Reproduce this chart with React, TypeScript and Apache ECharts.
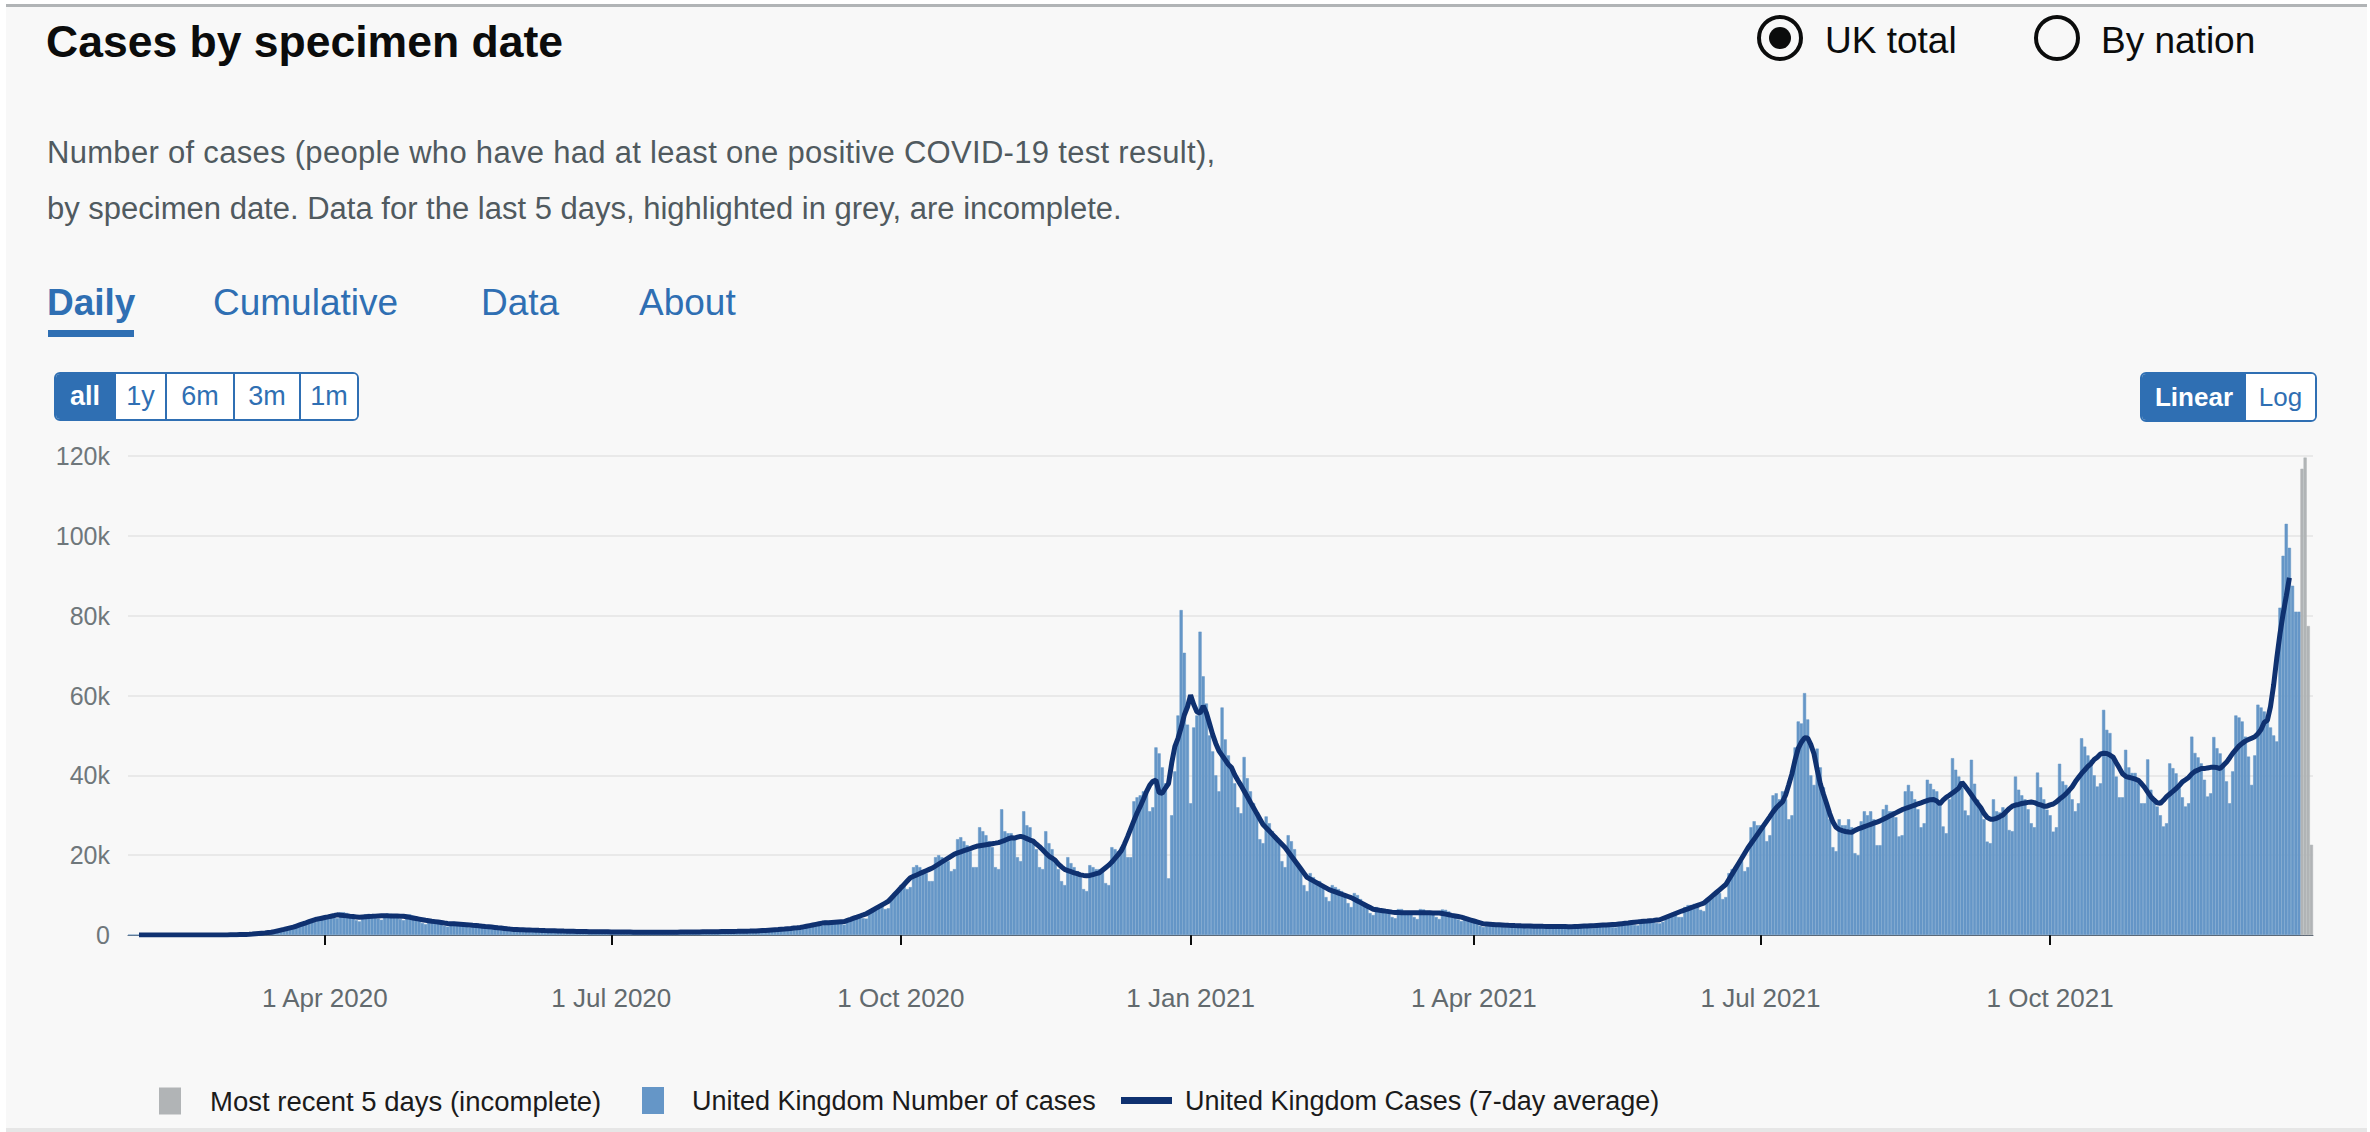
import React, { useEffect, useRef } from "react";
import * as echarts from "echarts";

const START_DATE = "2020-01-30";
const TICK_DATES = ["2020-04-01", "2020-07-01", "2020-10-01", "2021-01-01", "2021-04-01", "2021-07-01", "2021-10-01"];
const TICK_LABELS = ["1 Apr 2020", "1 Jul 2020", "1 Oct 2020", "1 Jan 2021", "1 Apr 2021", "1 Jul 2021", "1 Oct 2021"];
const Y_MAX = 120000;
const Y_STEP = 20000;

// Daily cases by specimen date (rows are weeks, Thu..Wed), 30 Jan 2020 - 19 Dec 2021
const casesWave1 = [
  2, 0, 0, 0, 0, 0, 0,
  0, 1, 0, 0, 1, 2, 1,
  1, 0, 0, 1, 0, 1, 0,
  0, 1, 1, 2, 3, 4, 6,
  8, 12, 10, 14, 25, 35, 48,
  70, 95, 90, 110, 200, 260, 320,
  420, 480, 430, 480, 850, 980, 1100,
  1400, 1550, 1450, 1550, 2350, 2650, 2850,
  3300, 3450, 3150, 3250, 4550, 4650, 4750,
  5000, 4950, 4300, 4200, 5700, 5700, 5500,
  5000, 4300, 3700, 3400, 4200, 5200, 5300,
  5200, 4900, 4100, 3800, 5200, 5400, 5300,
  5200, 4800, 4000, 3700, 5100, 5200, 4900,
  4600, 4200, 3000, 2700, 3700, 3900, 3700,
  3400, 2800, 2300, 2100, 3200, 3300, 3200,
  3000, 2700, 2100, 1900, 2700, 2700, 2600,
  2400, 2200, 1700, 1500, 1900, 2100, 2100,
  1700, 1500, 1100, 1000, 1500, 1500, 1400,
  1400, 1300, 1000, 850, 1300, 1300, 1200,
  1200, 1100, 850, 750, 1100, 1100, 1050,
  1000, 950, 700, 650, 950, 950, 900,
  900, 850, 650, 600, 900, 900, 850,
  800, 800, 600, 550, 850, 800, 750,
  750, 700, 550, 500, 800, 800, 750,
  750, 700, 550, 500, 800, 800, 750,
  800, 750, 600, 550, 850, 850, 800,
];
const casesSecondWave = [
  850, 800, 650, 600, 950, 950, 900,
  950, 900, 700, 650, 1050, 1050, 1000,
  1050, 1000, 800, 750, 1150, 1150, 1100,
  1300, 1250, 1050, 1000, 1550, 1600, 1700,
  1600, 1600, 1400, 1300, 2100, 2500, 2700,
  2800, 2900, 2400, 2400, 3600, 3500, 3300,
  3300, 3300, 2800, 2600, 3800, 3900, 3900,
  4600, 4800, 4200, 4100, 6000, 6500, 7000,
  7200, 7400, 6500, 6700, 9800, 10500, 11000,
  12500, 13000, 11500, 12000, 17000, 17500, 17000,
  16000, 15500, 13500, 13500, 19500, 20000, 19500,
  19000, 18500, 16000, 16500, 24000, 24500, 23500,
  22500, 21000, 17000, 17000, 27000, 26000, 25000,
  23500, 22000, 17000, 16500, 31500, 26000, 25500,
  25500, 24000, 19500, 18500, 31000, 27500, 27000,
  24000, 21500, 17000, 16500, 26000, 23000, 21500,
  18000, 16500, 13500, 12500, 19500, 18000, 17000,
  16000, 14500, 11500, 11000, 17500, 17000, 16500,
  16500, 16000, 13000, 12500, 22000, 21500, 21000,
  22000, 22500, 19500, 19500, 33500, 34500, 35000,
  36000, 36000, 31000, 32000, 47000, 45500, 42000,
  38000, 14200, 30000, 41000, 55000, 81400, 70700,
  52700, 33000, 52000, 55000, 76000, 64800, 58000,
  50000, 46000, 40000, 36000, 57000, 49000, 45000,
  42000, 38000, 32000, 30500, 44600, 39300, 36000,
  33000, 30000, 24000, 23000, 29700, 28000, 26000,
];
const casesThirdWave = [
  25000, 23000, 18500, 17000, 25000, 23500, 21500,
  17500, 16500, 12500, 11000, 15500, 14500, 13500,
  13500, 12000, 9500, 8500, 12500, 12000, 11500,
  11000, 10000, 8000, 7000, 10500, 10000, 9000,
  8000, 7000, 5500, 5000, 7000, 6500, 6200,
  6000, 5600, 4500, 4200, 6500, 6500, 6000,
  6000, 5600, 4500, 4000, 6500, 6400, 6000,
  6000, 5600, 4500, 4000, 6400, 6300, 5900,
  5400, 5000, 3900, 3500, 4800, 4500, 4200,
  3900, 2800, 2300, 2000, 2200, 3200, 3100,
  2900, 2600, 2100, 1900, 2600, 2600, 2500,
  2600, 2400, 1900, 1700, 2400, 2400, 2300,
  2500, 2300, 1800, 1600, 2300, 2300, 2200,
  2400, 2200, 1700, 1500, 1800, 2500, 2500,
  2600, 2400, 1800, 1700, 2600, 2700, 2600,
  2800, 2600, 2000, 1900, 3000, 3200, 3100,
  3300, 3200, 2500, 2400, 3800, 3900, 3900,
  4000, 3800, 3000, 2900, 3300, 4700, 5000,
  5500, 5500, 4500, 4500, 7000, 7500, 7500,
  7800, 7800, 6300, 6000, 9000, 9500, 9500,
  10500, 10500, 9000, 9500, 15500, 16500, 17000,
  18000, 18500, 16000, 17000, 27000, 28500, 27500,
  27500, 27000, 23500, 25000, 35000, 35500, 34000,
  36000, 34000, 29000, 30000, 47000, 53500, 53000,
  60600, 54000, 40000, 37600, 46700, 42000, 37000,
  33000, 29000, 22000, 21000, 29000, 27500, 27500,
];
const casesAutumn2021 = [
  29000, 27000, 20500, 20000, 28500, 31000, 30000,
  31000, 29000, 22500, 22500, 31500, 32600, 31000,
  31000, 29500, 24700, 25000, 36000, 37600, 36000,
  34000, 31500, 27000, 28000, 38900, 37900, 36500,
  36000, 33000, 27200, 25500, 34000, 44300, 41400,
  39700, 37000, 31200, 30000, 43900, 37900, 33900,
  32000, 29000, 23400, 23000, 34000, 31000, 30700,
  32000, 30500, 26300, 26000, 39700, 36400, 35000,
  34000, 31500, 28000, 27000, 40700, 37000, 34000,
  31400, 30000, 25900, 27000, 42900, 38500, 37600,
  36500, 34000, 31000, 33000, 49300, 47200, 45000,
  43900, 40000, 37200, 38000, 56400, 51400, 50600,
  45000, 39700, 34500, 34500, 46400, 42000, 40600,
  40600, 38000, 33000, 33000, 44000, 36400, 34000,
  32200, 30000, 27200, 28000, 43000, 41800, 40500,
  36800, 34500, 32200, 33000, 49700, 45600, 44500,
  43000, 38900, 34700, 35500, 49600, 46800, 45500,
  43000, 38500, 33000, 41000, 55000, 54500, 53500,
  49700, 44700, 37600, 45000, 57700, 57000, 56000,
  55000, 52000, 50000, 48500, 82000, 95000, 103000,
  97000, 87500, 81000, 81000,
];
// Last days, highlighted in grey (incomplete)
const casesIncomplete = [116800, 119600, 77400, 22600];

// 7-day average line, same day grid (null where not shown)
const avgWave1 = [
  null, null, null, 0, 0, 0, 1,
  1, 1, 1, 1, 1, 1, 0,
  0, 0, 0, 0, 1, 1, 1,
  1, 2, 2, 2, 5, 8, 11,
  13, 16, 19, 22, 42, 62, 83,
  103, 123, 144, 164, 237, 311, 384,
  457, 530, 604, 677, 862, 1047, 1232,
  1416, 1601, 1786, 1971, 2243, 2514, 2786,
  3056, 3328, 3600, 3871, 4040, 4208, 4376,
  4544, 4713, 4881, 5050, 4963, 4876, 4790,
  4703, 4617, 4530, 4443, 4500, 4557, 4614,
  4671, 4729, 4786, 4843, 4823, 4802, 4782,
  4761, 4741, 4720, 4700, 4555, 4410, 4265,
  4121, 3976, 3831, 3686, 3574, 3461, 3349,
  3237, 3125, 3012, 2900, 2847, 2794, 2741,
  2688, 2635, 2582, 2529, 2451, 2374, 2296,
  2219, 2141, 2064, 1986, 1900, 1814, 1729,
  1643, 1557, 1472, 1386, 1358, 1331, 1303,
  1276, 1248, 1221, 1193, 1168, 1144, 1119,
  1095, 1070, 1046, 1021, 1000, 978, 957,
  935, 914, 893, 871, 862, 853, 844,
  834, 825, 816, 807, 797, 787, 777,
  766, 756, 746, 736, 730, 724, 718,
  711, 705, 699, 693, 693, 693, 693,
  693, 693, 693, 693, 700, 707, 714,
  722, 729, 736, 743, 753, 763, 773,
];
const avgSecondWave = [
  784, 794, 804, 814, 826, 839, 851,
  863, 875, 888, 900, 914, 929, 943,
  957, 971, 986, 1000, 1050, 1100, 1150,
  1200, 1250, 1300, 1350, 1427, 1503, 1580,
  1656, 1733, 1809, 1886, 2043, 2200, 2357,
  2514, 2671, 2829, 2986, 3041, 3096, 3151,
  3206, 3261, 3316, 3371, 3649, 3926, 4204,
  4481, 4759, 5036, 5314, 5761, 6208, 6655,
  7102, 7549, 7996, 8443, 9288, 10133, 10978,
  11822, 12667, 13512, 14357, 14704, 15051, 15398,
  15745, 16092, 16439, 16786, 17286, 17786, 18286,
  18786, 19286, 19786, 20286, 20561, 20837, 21112,
  21388, 21663, 21939, 22214, 22347, 22480, 22612,
  22745, 22878, 23010, 23143, 23429, 23714, 24071,
  24357, 24286, 24500, 24714, 24500, 24143, 23786,
  23500, 22786, 22143, 21357, 20500, 19786, 19286,
  18714, 17786, 17071, 16429, 16143, 15857, 15571,
  15357, 15071, 14929, 14857, 14929, 15143, 15357,
  15571, 16214, 16857, 17500, 18286, 19214, 20143,
  21143, 22786, 24643, 26643, 28643, 30571, 32214,
  34000, 35929, 37500, 38500, 38786, 35671, 35529,
  36814, 37957, 43086, 47186, 49286, 51971, 55114,
  57114, 60114, 57743, 55929, 55543, 57400, 55686,
  52971, 50257, 48000, 46143, 45000, 43857, 42714,
  41929, 40157, 38771, 37486, 36084, 34679, 33275,
  31881, 30476, 29073, 27671, 26850, 26029, 25208,
];
const avgThirdWave = [
  24390, 23570, 22749, 21929, 20857, 19786, 18714,
  17643, 16571, 15500, 14429, 13990, 13551, 13112,
  12673, 12235, 11796, 11357, 11071, 10786, 10500,
  10214, 9929, 9643, 9357, 8943, 8528, 8114,
  7700, 7286, 6871, 6457, 6337, 6216, 6096,
  5975, 5855, 5734, 5614, 5608, 5602, 5596,
  5590, 5584, 5577, 5571, 5565, 5559, 5553,
  5547, 5541, 5535, 5529, 5378, 5227, 5076,
  4924, 4773, 4622, 4471, 4230, 3990, 3749,
  3508, 3267, 3027, 2786, 2739, 2692, 2645,
  2598, 2551, 2504, 2457, 2426, 2396, 2365,
  2335, 2304, 2274, 2243, 2229, 2214, 2200,
  2186, 2171, 2157, 2143, 2135, 2127, 2119,
  2110, 2102, 2094, 2086, 2123, 2159, 2196,
  2233, 2269, 2306, 2343, 2388, 2433, 2478,
  2522, 2567, 2612, 2657, 2747, 2837, 2927,
  3016, 3106, 3196, 3286, 3361, 3437, 3512,
  3588, 3663, 3739, 3814, 4127, 4439, 4751,
  5063, 5376, 5688, 6000, 6284, 6567, 6851,
  7135, 7418, 7702, 7986, 8651, 9316, 9982,
  10647, 11312, 11977, 12643, 13949, 15255, 16561,
  17867, 19173, 20480, 21786, 22908, 24031, 25153,
  26276, 27398, 28521, 29643, 30857, 31857, 32643,
  33357, 35071, 37643, 40357, 43871, 46729, 48300,
  49386, 49343, 47700, 45414, 41471, 37900, 35329,
  32957, 30429, 28357, 27000, 26429, 26143, 25929,
];
const avgAutumn2021 = [
  25786, 25714, 26214, 26571, 26859, 27147, 27435,
  27722, 28010, 28298, 28586, 28988, 29391, 29793,
  30194, 30596, 30998, 31400, 31686, 31971, 32257,
  32543, 32829, 33114, 33400, 33686, 33900, 33929,
  33571, 32871, 33786, 34486, 35014, 35586, 36157,
  36800, 38214, 37300, 36229, 35129, 33986, 32871,
  31871, 30457, 29471, 29014, 29014, 29229, 29643,
  30071, 30886, 31657, 32271, 32557, 32700, 32943,
  33086, 33229, 33314, 33171, 32800, 32586, 32286,
  32286, 32600, 32814, 33329, 34057, 34629, 35357,
  36214, 37129, 38371, 39429, 40486, 41343, 42229,
  42943, 43957, 44557, 45357, 45514, 45471, 45086,
  44586, 43157, 41814, 40386, 39757, 39514, 39300,
  39086, 38743, 37943, 37000, 35800, 34657, 33829,
  33114, 32971, 33743, 34671, 35329, 35971, 36686,
  37400, 38357, 38900, 39471, 40357, 40986, 41343,
  41700, 41686, 41857, 42000, 42000, 41943, 41700,
  42486, 43257, 44357, 45500, 46457, 47343, 48000,
  48571, 48957, 49314, 49671, 50429, 51471, 53243,
  53743, 57214, 62643, 69357, 75357, 80429, 84857,
  89500,
];

const SERIES_GREY = "Most recent 5 days (incomplete)";
const SERIES_BARS = "United Kingdom Number of cases";
const SERIES_LINE = "United Kingdom Cases (7-day average)";

const FONT = "'Liberation Sans', Arial, sans-serif";
const BLUE = "#2f6fb3";
const BAR_BLUE = "#6596c7";
const BAR_GREY = "#b1b4b6";
const LINE_NAVY = "#0f3170";

function buildDates(start: string, n: number): string[] {
  const out: string[] = [];
  const d = new Date(start + "T00:00:00Z");
  for (let i = 0; i < n; i++) {
    out.push(d.toISOString().slice(0, 10));
    d.setUTCDate(d.getUTCDate() + 1);
  }
  return out;
}

function Seg({ w, active, bold, children, first }: any) {
  return (
    <div
      style={{
        width: w,
        height: "100%",
        boxSizing: "border-box",
        borderLeft: first ? "none" : `2px solid ${BLUE}`,
        background: active ? BLUE : "#ffffff",
        color: active ? "#ffffff" : BLUE,
        fontWeight: bold ? 700 : 400,
        display: "flex",
        alignItems: "center",
        justifyContent: "center",
      }}
    >
      {children}
    </div>
  );
}

export default function App() {
  const ref = useRef<HTMLDivElement>(null);

  useEffect(() => {
    const complete = [...casesWave1, ...casesSecondWave, ...casesThirdWave, ...casesAutumn2021];
    const avg = [...avgWave1, ...avgSecondWave, ...avgThirdWave, ...avgAutumn2021];
    const n = complete.length + casesIncomplete.length;
    const dates = buildDates(START_DATE, n);
    const blueData = [...complete, ...casesIncomplete.map(() => null)];
    const greyData = [...complete.map(() => null), ...casesIncomplete];

    const chart = echarts.init(ref.current!, null, { renderer: "svg" });
    const isTick = (_i: number, v: string) => TICK_DATES.indexOf(v) >= 0;
    const legendText = { fontFamily: FONT, fontSize: 27, color: "#1b1b1b" };
    chart.setOption({
      animation: false,
      grid: { left: 128, right: 57, top: 456, bottom: 197, containLabel: false },
      xAxis: [
        {
          type: "category",
          data: dates,
          position: "bottom",
          offset: 29,
          axisLine: { show: false },
          axisTick: {
            show: true,
            interval: isTick,
            alignWithLabel: true,
            length: 10,
            lineStyle: { color: "#0b0c0c", width: 2 },
          },
          axisLabel: {
            interval: isTick,
            formatter: (v: string) => {
              const k = TICK_DATES.indexOf(v);
              return k >= 0 ? TICK_LABELS[k] : "";
            },
            margin: 21,
            fontFamily: FONT,
            fontSize: 26,
            color: "#626a6e",
          },
          splitLine: { show: false },
        },
        {
          type: "category",
          data: dates,
          position: "bottom",
          offset: 0,
          axisLine: { show: true, lineStyle: { color: "#5a6470", width: 1 } },
          axisTick: { show: false },
          axisLabel: { show: false },
          splitLine: { show: false },
        },
      ],
      yAxis: {
        type: "value",
        min: 0,
        max: Y_MAX,
        interval: Y_STEP,
        axisLine: { show: false },
        axisTick: { show: false },
        axisLabel: {
          formatter: (v: number) => (v === 0 ? "0" : v / 1000 + "k"),
          margin: 18,
          fontFamily: FONT,
          fontSize: 25,
          color: "#6f777b",
        },
        splitLine: { lineStyle: { color: "#e9e9e9", width: 2 } },
      },
      legend: [
        { top: 1087, left: 159, padding: 0, selectedMode: false, itemWidth: 20, itemHeight: 25, data: [{ name: SERIES_GREY, icon: "rect" }], textStyle: { ...legendText, fontSize: 27.5, padding: [0, 0, 0, 25] } },
        { top: 1087, left: 642, padding: 0, selectedMode: false, itemWidth: 20, itemHeight: 25, data: [{ name: SERIES_BARS, icon: "rect" }], textStyle: { ...legendText, padding: [0, 0, 0, 24] } },
        { top: 1087, left: 1121, padding: 0, selectedMode: false, itemWidth: 51, itemHeight: 7, data: [{ name: SERIES_LINE, icon: "rect" }], textStyle: { ...legendText, padding: [0, 0, 0, 8] } },
      ],
      series: [
        {
          name: SERIES_GREY,
          type: "bar",
          data: greyData,
          barGap: "-100%",
          barCategoryGap: "0%",
          itemStyle: { color: BAR_GREY, borderColor: BAR_GREY, borderWidth: 0.5 },
          z: 2,
        },
        {
          name: SERIES_BARS,
          type: "bar",
          data: blueData,
          barGap: "-100%",
          barCategoryGap: "0%",
          itemStyle: { color: BAR_BLUE, borderColor: BAR_BLUE, borderWidth: 0.5 },
          z: 2,
        },
        {
          name: SERIES_LINE,
          type: "line",
          data: avg,
          showSymbol: false,
          symbol: "none",
          connectNulls: false,
          lineStyle: { color: LINE_NAVY, width: 5 },
          itemStyle: { color: LINE_NAVY },
          z: 4,
        },
      ],
    });
    return () => chart.dispose();
  }, []);

  const abs = (s: any) => ({ position: "absolute" as const, ...s });

  return (
    <div style={abs({ left: 0, top: 0, width: 2370, height: 1132, background: "#ffffff", overflow: "hidden", fontFamily: FONT })}>
      <div style={abs({ left: 6, top: 4, width: 2361, height: 1128, background: "#f8f8f8", borderTop: "3px solid #b1b4b6", borderBottom: "4px solid #e6e6e6", boxSizing: "border-box" })} />
      <div ref={ref} style={abs({ left: 0, top: 0, width: 2370, height: 1132 })} />

      <div style={abs({ left: 46, top: 20, fontSize: 44.5, lineHeight: "44px", fontWeight: 700, color: "#0b0c0c", whiteSpace: "nowrap" })}>
        Cases by specimen date
      </div>

      <div style={abs({ left: 1757, top: 15, width: 46, height: 46, borderRadius: "50%", border: "4px solid #0b0c0c", boxSizing: "border-box" })} />
      <div style={abs({ left: 1769, top: 27, width: 22, height: 22, borderRadius: "50%", background: "#0b0c0c" })} />
      <div style={abs({ left: 1825, top: 22, fontSize: 37, lineHeight: "37px", color: "#0b0c0c", whiteSpace: "nowrap" })}>UK total</div>
      <div style={abs({ left: 2034, top: 15, width: 46, height: 46, borderRadius: "50%", border: "4px solid #0b0c0c", boxSizing: "border-box" })} />
      <div style={abs({ left: 2101, top: 22, fontSize: 37, lineHeight: "37px", color: "#0b0c0c", whiteSpace: "nowrap" })}>By nation</div>

      <div style={abs({ left: 47, top: 125, fontSize: 31, letterSpacing: "0.3px", lineHeight: "56px", color: "#505a5f", whiteSpace: "nowrap" })}>
        Number of cases (people who have had at least one positive COVID-19 test result),
      </div>
      <div style={abs({ left: 47, top: 181, fontSize: 31, lineHeight: "56px", color: "#505a5f", whiteSpace: "nowrap" })}>
        by specimen date. Data for the last 5 days, highlighted in grey, are incomplete.
      </div>

      <div style={abs({ left: 47, top: 284, fontSize: 37, lineHeight: "37px", fontWeight: 700, color: BLUE, whiteSpace: "nowrap" })}>Daily</div>
      <div style={abs({ left: 48, top: 330, width: 86, height: 7, background: BLUE })} />
      <div style={abs({ left: 213, top: 284, fontSize: 37, lineHeight: "37px", color: BLUE, whiteSpace: "nowrap" })}>Cumulative</div>
      <div style={abs({ left: 481, top: 284, fontSize: 37, lineHeight: "37px", color: BLUE, whiteSpace: "nowrap" })}>Data</div>
      <div style={abs({ left: 639, top: 284, fontSize: 37, lineHeight: "37px", color: BLUE, whiteSpace: "nowrap" })}>About</div>

      <div style={abs({ left: 54, top: 372, width: 305, height: 49, border: `2px solid ${BLUE}`, borderRadius: 6, overflow: "hidden", display: "flex", boxSizing: "border-box", fontSize: 27 })}>
        <Seg w={58} active bold first>all</Seg>
        <Seg w={51}>1y</Seg>
        <Seg w={68}>6m</Seg>
        <Seg w={66}>3m</Seg>
        <Seg w={58}>1m</Seg>
      </div>

      <div style={abs({ left: 2140, top: 372, width: 177, height: 50, border: `2px solid ${BLUE}`, borderRadius: 6, overflow: "hidden", display: "flex", boxSizing: "border-box", fontSize: 26 })}>
        <Seg w={104} active bold first>Linear</Seg>
        <Seg w={69} first>Log</Seg>
      </div>
    </div>
  );
}
